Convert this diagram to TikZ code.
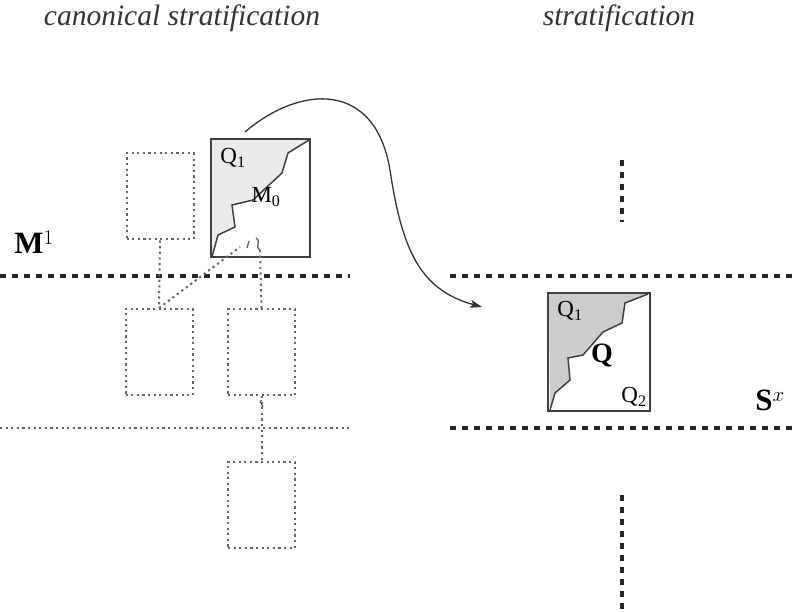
\documentclass[tikz,border=0pt]{standalone}
\usepackage{fontspec}
\setmainfont{Liberation Serif}
\usetikzlibrary{positioning,arrows.meta}
\tikzset{
  dotbox/.style={draw=black!60, line width=2pt, dash pattern=on 2.2pt off 3.4pt, minimum width=67pt, minimum height=86pt, inner sep=0pt},
  dotline/.style={draw=black!60, line width=2pt, dash pattern=on 2.2pt off 3.4pt},
  stratum/.style={line width=4.5pt, dash pattern=on 6pt off 6pt, black!85},
  solidbox/.style={draw=black!75, line width=1.8pt},
  lbl/.style={inner sep=0pt, font=\fontsize{23}{25}\selectfont},
}
\begin{document}
\begin{tikzpicture}[x=1pt,y=-1pt]
        \useasboundingbox (0,0) rectangle (796,612);

        \node[font=\fontsize{29.5}{31}\selectfont\itshape, text=black!80] (title1) at (182,18) {canonical stratification};
        \node[font=\fontsize{29.5}{31}\selectfont\itshape, text=black!80] (title2) at (619,18) {stratification};

        \node[dotbox] (A) at (160,196.5) {};
        \node[dotbox] (B) at (159,352) {};
        \node[dotbox] (C) at (261.5,352) {};
        \node[dotbox] (D) at (261.5,505) {};

        \fill[black!8] (212,257) -- (218,235) -- (235,227) -- (232,205) -- (253,200) -- (282,173) -- (288,153) -- (309,140) -- (212,140) -- cycle;
        \draw[solidbox] (211,139) rectangle (310,257);
        \draw[solidbox, line width=1.5pt] (212,257) -- (218,235) -- (235,227) -- (232,205) -- (253,200) -- (282,173) -- (288,153) -- (309,140);
        \node[lbl] (q1a) at (233,158) {Q\textsubscript{1}};
        \node[lbl] (m0) at (266,197) {M\textsubscript{0}};

        \fill[black!20] (550,410) -- (555,393) -- (570,380) -- (568,358) -- (583,355) -- (603,332) -- (622,323) -- (625,303) -- (648,294) -- (549,294) -- cycle;
        \draw[solidbox] (548,293) rectangle (650,411);
        \draw[solidbox, line width=1.5pt] (550,410) -- (555,393) -- (570,380) -- (568,358) -- (583,355) -- (603,332) -- (622,323) -- (625,303) -- (648,294);
        \node[lbl] (q1b) at (570,311) {Q\textsubscript{1}};
        \node[inner sep=0pt, font=\fontsize{28}{30}\selectfont\bfseries] (q) at (602,356) {Q};
        \node[lbl] (q2) at (634,397) {Q\textsubscript{2}};

        \draw[stratum] (0,276) -- (350,276);
        \draw[dotline] (0,428) -- (350,428);
        \draw[stratum] (450,276) -- (796,276);
        \draw[stratum] (450,428) -- (796,428);
        \draw[stratum] (622,160) -- (622,222);
        \draw[stratum] (622,495) -- (622,612);

        \node[inner sep=0pt, font=\fontsize{31}{33}\selectfont] (m1) at (34,242) {$\mathbf{M}^{1}$};
        \node[inner sep=0pt, font=\fontsize{31}{33}\selectfont] (sx) at (770,400) {$\mathbf{S}^{x}$};

        \coordinate (sa) at (240,247);
        \coordinate (sb) at (260,250);
        \draw[dotline] (A.south) -- (B.north);
        \draw[dotline] (B.north) -- (sa);
        \draw[dotline] (sb) -- (C.north);
        \draw[dotline] (C.south) -- (D.north);
        \draw[black!65, line width=1.3pt] (sb) .. controls (254,246) and (262,242) .. (256,238);
        \draw[black!65, line width=1.3pt] (247,248) -- (249,241);
        \draw[black!65, line width=1.3pt] (C.south) ++(0,4) .. controls ++(-4,2) and ++(4,-2) .. ++(0,8);

        \draw[black!80, line width=1.3pt, -{Stealth[length=12pt,width=8pt,inset=3pt]}] (245,132) .. controls (300,85) and (375,80) .. (390,170) .. controls (402,250) and (420,290) .. (482,307);
      \end{tikzpicture}
\end{document}
